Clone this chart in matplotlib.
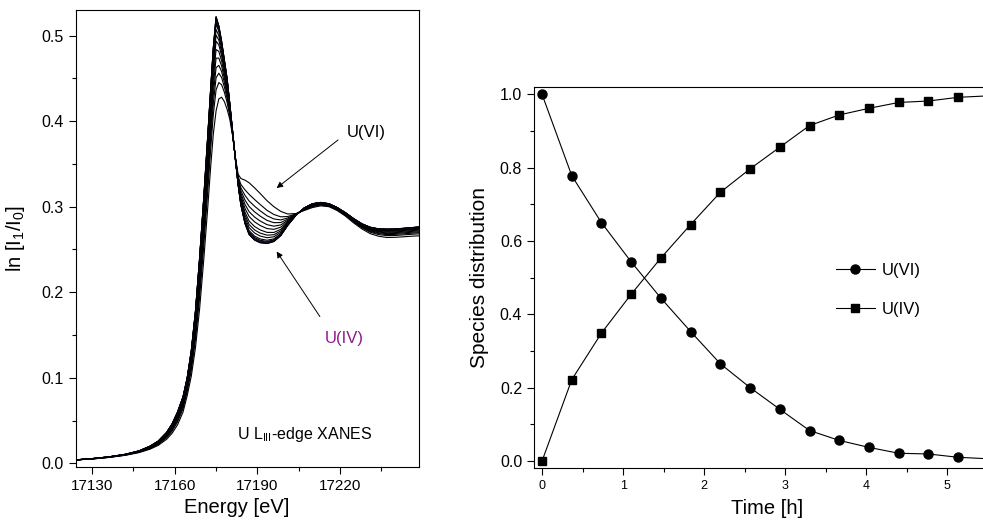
import numpy as np
import matplotlib
matplotlib.use("Agg")
import matplotlib.pyplot as plt
from matplotlib.ticker import MultipleLocator, FormatStrFormatter

plt.rcParams['font.family'] = ['Liberation Sans', 'DejaVu Sans']
plt.rcParams['mathtext.fontset'] = 'custom'
plt.rcParams['mathtext.rm'] = 'Liberation Sans'
plt.rcParams['mathtext.it'] = 'Liberation Sans:italic'

# ---------------- data: species distribution ----------------
time_h = [0.0, 0.367, 0.733, 1.1, 1.467, 1.833, 2.2, 2.567, 2.933, 3.3,
          3.667, 4.033, 4.4, 4.767, 5.133, 5.5]
u_vi = [1.0, 0.778, 0.650, 0.543, 0.444, 0.353, 0.265, 0.200, 0.141, 0.083,
        0.056, 0.037, 0.021, 0.019, 0.010, 0.006]
u_iv = [0.0, 0.222, 0.349, 0.455, 0.554, 0.645, 0.733, 0.797, 0.856, 0.915,
        0.944, 0.962, 0.978, 0.982, 0.992, 0.996]

# ---------------- data: XANES end-member spectra ----------------
energy = [17124, 17130, 17136, 17142, 17147, 17151, 17154, 17157, 17159, 17161,
          17163, 17164.5, 17166, 17167.5, 17169, 17170.5, 17172, 17173, 17174, 17175,
          17176, 17177, 17178, 17179, 17180, 17181, 17182, 17183, 17184, 17185.5,
          17187, 17189, 17191, 17193.5, 17196, 17198.5, 17201, 17204, 17207, 17210,
          17213, 17216, 17219, 17222, 17225, 17228, 17231, 17234, 17237, 17240,
          17243, 17246, 17249]
spec_u4 = [0.004, 0.0055, 0.0075, 0.0105, 0.0145, 0.020, 0.026, 0.036, 0.046, 0.060,
           0.078, 0.100, 0.132, 0.178, 0.240, 0.310, 0.385, 0.437, 0.487, 0.523,
           0.512, 0.494, 0.472, 0.450, 0.420, 0.388, 0.356, 0.326, 0.302, 0.280,
           0.267, 0.2605, 0.2575, 0.2566, 0.259, 0.266, 0.278, 0.290, 0.2985, 0.3035,
           0.305, 0.3035, 0.299, 0.293, 0.286, 0.280, 0.276, 0.2742, 0.2738, 0.274,
           0.2748, 0.2756, 0.2765]
spec_u6 = [0.004, 0.005, 0.0068, 0.0093, 0.0125, 0.0165, 0.021, 0.028, 0.035, 0.045,
           0.060, 0.079, 0.102, 0.135, 0.180, 0.237, 0.300, 0.345, 0.385, 0.412,
           0.426, 0.428, 0.423, 0.414, 0.402, 0.383, 0.358, 0.338, 0.333, 0.331,
           0.328, 0.322, 0.3155, 0.307, 0.300, 0.2945, 0.2915, 0.292, 0.2955, 0.299,
           0.301, 0.300, 0.2955, 0.289, 0.281, 0.274, 0.2685, 0.2655, 0.264, 0.2642,
           0.2648, 0.2655, 0.266]

E = np.array(energy)
s4 = np.array(spec_u4)
s6 = np.array(spec_u6)
f6 = np.array(u_vi)
f4 = np.array(u_iv)
w6 = f6 / (f6 + f4)

fig = plt.figure(figsize=(9.83, 5.22), dpi=100)

# ---------------- left panel ----------------
ax1 = fig.add_axes([0.0770, 0.1054, 0.3492, 0.8755])
for i, w in enumerate(w6):
    col = '#20209a' if i == 13 else 'black'
    ax1.plot(E, w * s6 + (1 - w) * s4, color=col, lw=0.8)
ax1.set_xlim(17124, 17248.7)
ax1.set_ylim(-0.0043, 0.530)
ax1.xaxis.set_major_locator(MultipleLocator(30))
ax1.xaxis.set_minor_locator(MultipleLocator(15))
ax1.yaxis.set_major_locator(MultipleLocator(0.1))
ax1.yaxis.set_minor_locator(MultipleLocator(0.05))
ax1.yaxis.set_major_formatter(FormatStrFormatter('%.1f'))
ax1.tick_params(which='both', direction='out', top=False, right=False)
ax1.tick_params(which='major', length=5, width=0.8)
ax1.tick_params(which='minor', length=3, width=0.8)
ax1.tick_params(axis='x', labelsize=11)
ax1.tick_params(axis='y', labelsize=11.5)
ax1.set_xlabel('Energy [eV]', fontsize=14.5)
ax1.xaxis.set_label_coords(0.468, -0.068)
ax1.set_ylabel(r'ln [I$_1$/I$_0$]', fontsize=14.5)
ax1.yaxis.set_label_coords(-0.142, 0.5)

ax1.annotate('', xy=(17197.0, 0.3218), xytext=(17219.3, 0.378),
             arrowprops=dict(arrowstyle='-|>', color='black', lw=0.7,
                             mutation_scale=9, shrinkA=0, shrinkB=0))
ax1.annotate('', xy=(17197.0, 0.2476), xytext=(17212.7, 0.1716),
             arrowprops=dict(arrowstyle='-|>', color='black', lw=0.7,
                             mutation_scale=9, shrinkA=0, shrinkB=0))
ax1.text(17222.5, 0.3865, 'U(VI)', fontsize=12, ha='left', va='center')
ax1.text(17214.5, 0.1455, 'U(IV)', fontsize=12, ha='left', va='center', color='#8e1a8e')
ax1.text(17182.6, 0.0332, r'U L$_{\mathrm{III}}$-edge XANES', fontsize=11.5,
         ha='left', va='center')

# ---------------- right panel ----------------
ax2 = fig.add_axes([0.5432, 0.1029, 0.4568, 0.7310])
ax2.plot(time_h, u_vi, '-o', color='black', lw=0.8, ms=6.5, label='U(VI)')
ax2.plot(time_h, u_iv, '-s', color='black', lw=0.8, ms=6.0, label='U(IV)')
ax2.set_xlim(-0.1, 5.44)
ax2.set_ylim(-0.02, 1.021)
ax2.spines['right'].set_visible(False)
ax2.xaxis.set_major_locator(MultipleLocator(1))
ax2.xaxis.set_minor_locator(MultipleLocator(0.5))
ax2.yaxis.set_major_locator(MultipleLocator(0.2))
ax2.yaxis.set_minor_locator(MultipleLocator(0.1))
ax2.yaxis.set_major_formatter(FormatStrFormatter('%.1f'))
ax2.tick_params(which='both', direction='out', top=False, right=False)
ax2.tick_params(which='major', length=5, width=0.8)
ax2.tick_params(which='minor', length=3, width=0.8)
ax2.tick_params(axis='x', labelsize=9)
ax2.tick_params(axis='y', labelsize=11.5)
ax2.set_xlabel('Time [h]', fontsize=14.5)
ax2.xaxis.set_label_coords(0.519, -0.080)
ax2.set_ylabel('Species distribution', fontsize=15, labelpad=8)
ax2.legend(loc='center left', bbox_to_anchor=(0.672, 0.468), frameon=False,
           borderpad=0, borderaxespad=0, handlelength=2.36, handletextpad=0.42,
           labelspacing=1.45, fontsize=12)

fig.savefig('out.png', dpi=100)
